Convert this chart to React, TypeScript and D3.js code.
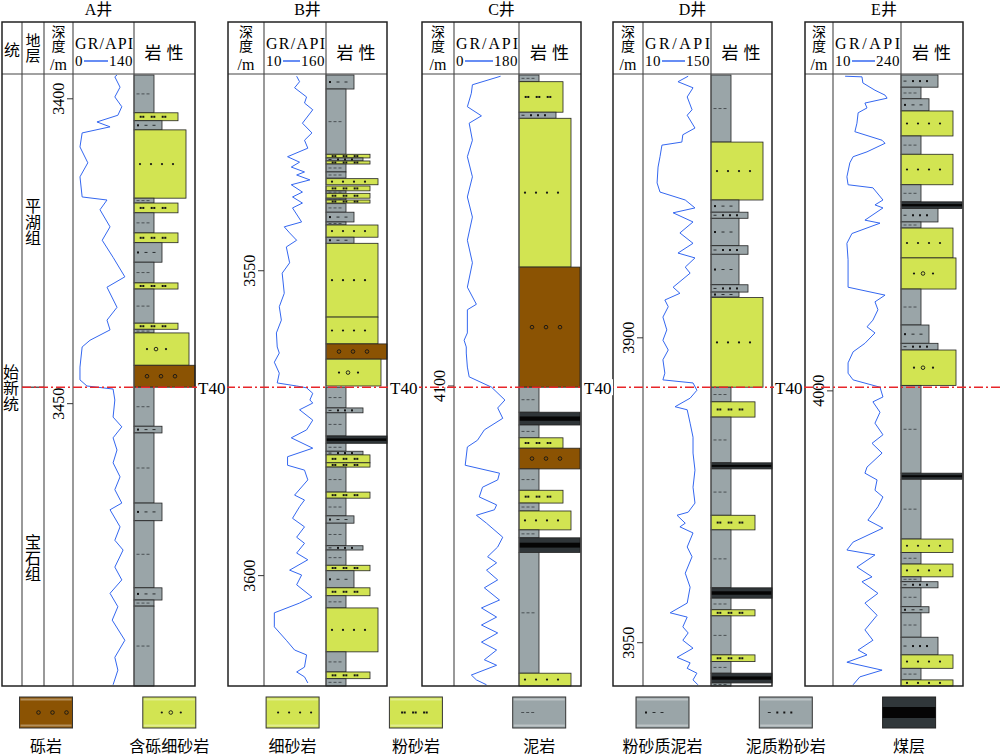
import React, { useEffect, useRef } from 'react';
import * as d3 from 'd3';

type Lith = 'gravel' | 'pebblySand' | 'fineSand' | 'silt' | 'muddySilt' | 'siltyMud' | 'mud' | 'coal';
type Layer = [number, number, Lith];
type Pt = [number, number];

// ---- data ----
const wellNames = ['A井', 'B井', 'C井', 'D井', 'E井'];
const grRanges: [number, number][] = [[0, 140], [10, 160], [0, 180], [10, 150], [10, 240]];
const depthTops = [3396.1, 3517.9, 4049.0, 3856.9, 3948.2];
const depthSpan = 100.2;
const depthTicks = [[3400, 3450], [3550, 3600], [4100], [3900, 3950], [4000]];
const t40Depths = [3447.3, 3569.0, 4100.2, 3908.1, 3999.1];

const aLith: Layer[] = [
  [3396.1, 3402.3, 'mud'], [3402.3, 3403.6, 'silt'], [3403.6, 3405.1, 'siltyMud'],
  [3405.1, 3416.3, 'fineSand'], [3416.3, 3417.1, 'mud'], [3417.1, 3418.7, 'silt'],
  [3418.7, 3422.0, 'mud'], [3422.0, 3423.6, 'silt'], [3423.6, 3426.8, 'siltyMud'],
  [3426.8, 3430.2, 'mud'], [3430.2, 3431.2, 'silt'], [3431.2, 3436.8, 'mud'],
  [3436.8, 3437.8, 'silt'], [3437.8, 3438.4, 'mud'], [3438.4, 3443.7, 'pebblySand'],
  [3443.7, 3447.3, 'gravel'], [3447.3, 3453.7, 'mud'], [3453.7, 3454.8, 'siltyMud'],
  [3454.8, 3466.3, 'mud'], [3466.3, 3469.2, 'siltyMud'], [3469.2, 3480.2, 'mud'],
  [3480.2, 3482.2, 'siltyMud'], [3482.2, 3483.2, 'mud'], [3483.2, 3496.3, 'mud'],
];
const bLith: Layer[] = [
  [3517.9, 3520.2, 'siltyMud'], [3520.2, 3530.9, 'mud'], [3530.9, 3531.5, 'silt'],
  [3531.5, 3532.0, 'muddySilt'], [3532.0, 3532.5, 'silt'], [3532.5, 3533.8, 'mud'],
  [3533.8, 3534.8, 'mud'], [3534.9, 3535.9, 'fineSand'], [3536.1, 3536.9, 'silt'],
  [3536.9, 3537.3, 'mud'], [3537.3, 3538.1, 'silt'], [3538.1, 3538.4, 'mud'],
  [3538.4, 3538.9, 'silt'], [3539.0, 3540.4, 'mud'], [3540.4, 3542.0, 'siltyMud'],
  [3542.0, 3542.5, 'mud'], [3542.5, 3544.5, 'fineSand'], [3544.5, 3545.5, 'siltyMud'],
  [3545.5, 3557.6, 'fineSand'], [3557.6, 3562.0, 'fineSand'], [3562.0, 3564.5, 'gravel'],
  [3564.5, 3568.9, 'pebblySand'], [3569.1, 3572.5, 'mud'], [3572.5, 3573.3, 'muddySilt'],
  [3573.3, 3577.1, 'mud'], [3577.1, 3578.3, 'coal'], [3578.3, 3579.6, 'mud'],
  [3579.6, 3580.2, 'muddySilt'], [3580.2, 3581.5, 'silt'], [3581.5, 3582.2, 'silt'],
  [3582.2, 3586.3, 'mud'], [3586.3, 3587.3, 'silt'], [3587.3, 3590.2, 'mud'],
  [3590.2, 3591.4, 'siltyMud'], [3591.4, 3595.1, 'mud'], [3595.1, 3595.8, 'muddySilt'],
  [3595.8, 3598.3, 'mud'], [3598.3, 3599.2, 'silt'], [3599.2, 3602.0, 'siltyMud'],
  [3602.0, 3603.3, 'silt'], [3603.3, 3605.3, 'mud'], [3605.3, 3612.5, 'fineSand'],
  [3612.5, 3615.8, 'mud'], [3615.8, 3616.9, 'silt'], [3616.9, 3618.1, 'mud'],
];
const cLith: Layer[] = [
  [4049.0, 4050.1, 'mud'], [4050.1, 4055.1, 'silt'], [4055.1, 4056.1, 'muddySilt'],
  [4056.1, 4080.5, 'fineSand'], [4080.5, 4100.2, 'gravel'], [4100.2, 4104.3, 'mud'],
  [4104.3, 4106.4, 'coal'], [4106.4, 4108.5, 'mud'], [4108.5, 4110.2, 'silt'],
  [4110.2, 4113.6, 'gravel'], [4113.6, 4117.1, 'mud'], [4117.1, 4119.2, 'silt'],
  [4119.2, 4120.5, 'mud'], [4120.5, 4123.6, 'fineSand'], [4123.6, 4124.9, 'mud'],
  [4124.9, 4127.3, 'coal'], [4127.3, 4147.1, 'mud'], [4147.1, 4149.2, 'fineSand'],
];
const dLith: Layer[] = [
  [3856.9, 3867.9, 'mud'], [3867.9, 3877.4, 'fineSand'], [3877.4, 3879.4, 'siltyMud'],
  [3879.4, 3880.4, 'muddySilt'], [3880.4, 3884.9, 'siltyMud'], [3884.9, 3886.3, 'muddySilt'],
  [3886.3, 3891.3, 'siltyMud'], [3891.3, 3892.5, 'muddySilt'], [3892.5, 3893.3, 'siltyMud'],
  [3893.4, 3908.1, 'fineSand'], [3908.1, 3910.5, 'mud'], [3910.5, 3913.0, 'silt'],
  [3913.0, 3920.5, 'mud'], [3920.5, 3921.5, 'coal'], [3921.5, 3929.1, 'mud'],
  [3929.1, 3931.5, 'silt'], [3931.5, 3941.0, 'mud'], [3941.0, 3942.7, 'coal'],
  [3942.7, 3944.6, 'mud'], [3944.6, 3945.6, 'silt'], [3945.6, 3952.0, 'mud'],
  [3952.0, 3953.1, 'silt'], [3953.1, 3955.0, 'mud'], [3955.0, 3956.6, 'coal'],
  [3956.6, 3957.1, 'mud'],
];
const eLith: Layer[] = [
  [3948.2, 3950.2, 'muddySilt'], [3950.2, 3952.1, 'mud'], [3952.1, 3954.1, 'siltyMud'],
  [3954.1, 3958.2, 'fineSand'], [3958.2, 3961.2, 'mud'], [3961.2, 3966.2, 'fineSand'],
  [3966.2, 3969.0, 'mud'], [3969.0, 3970.1, 'coal'], [3970.1, 3972.3, 'muddySilt'],
  [3972.3, 3973.3, 'mud'], [3973.3, 3978.2, 'fineSand'], [3978.2, 3983.3, 'pebblySand'],
  [3983.3, 3989.2, 'mud'], [3989.2, 3992.2, 'siltyMud'], [3992.2, 3993.3, 'muddySilt'],
  [3993.3, 3999.1, 'pebblySand'], [3999.1, 4013.5, 'mud'], [4013.5, 4014.5, 'coal'],
  [4014.5, 4024.3, 'mud'], [4024.3, 4026.5, 'fineSand'], [4026.5, 4028.4, 'mud'],
  [4028.4, 4030.5, 'fineSand'], [4030.5, 4031.3, 'mud'], [4031.3, 4032.3, 'muddySilt'],
  [4032.3, 4035.4, 'mud'], [4035.4, 4036.4, 'siltyMud'], [4036.4, 4040.4, 'mud'],
  [4040.4, 4043.3, 'muddySilt'], [4043.3, 4045.5, 'fineSand'], [4045.5, 4047.4, 'mud'],
  [4047.4, 4048.4, 'fineSand'],
];

const aGR: Pt[] = [
  [3396.1, 101], [3396.4, 96], [3398.1, 108], [3399.7, 96], [3401.3, 112], [3402.7, 103],
  [3403.8, 55], [3404.6, 85], [3405.6, 21], [3407.9, 16], [3410.5, 34], [3412.8, 16],
  [3416.1, 21], [3416.6, 78], [3418.2, 62], [3421.0, 85], [3423.2, 67], [3426.0, 92],
  [3429.2, 119], [3430.9, 78], [3434.2, 101], [3436.3, 78], [3437.9, 85], [3439.6, 39],
  [3440.7, 21], [3444.0, 16], [3446.1, 16], [3447.1, 32], [3447.6, 92], [3449.4, 96],
  [3452.2, 92], [3453.8, 112], [3455.6, 92], [3457.6, 101], [3459.7, 92], [3462.0, 108],
  [3464.1, 96], [3466.3, 112], [3467.4, 85], [3470.2, 108], [3472.4, 96], [3474.0, 115],
  [3476.8, 96], [3478.9, 112], [3481.1, 85], [3483.3, 103], [3485.5, 90], [3488.8, 119],
  [3491.6, 96], [3493.7, 103], [3496.1, 92],
];
const bGR: Pt[] = [
  [3518.1, 89], [3519.0, 96], [3520.0, 84], [3521.5, 113], [3522.5, 108], [3523.6, 128],
  [3525.8, 103], [3527.4, 126], [3528.6, 108], [3529.9, 116], [3531.3, 67], [3532.2, 96],
  [3533.0, 76], [3533.8, 108], [3534.3, 89], [3535.1, 121], [3535.9, 76], [3537.1, 103],
  [3537.9, 79], [3538.9, 103], [3539.7, 79], [3542.0, 101], [3542.8, 59], [3543.8, 72],
  [3545.0, 89], [3546.1, 64], [3548.7, 72], [3550.4, 54], [3553.7, 59], [3555.9, 47],
  [3558.1, 52], [3560.2, 40], [3562.5, 42], [3563.5, 47], [3565.0, 35], [3566.8, 47],
  [3568.4, 42], [3568.9, 89], [3569.2, 113], [3570.1, 128], [3571.2, 121], [3571.7, 128],
  [3572.8, 96], [3574.5, 128], [3576.1, 113], [3577.4, 76], [3579.1, 128], [3580.5, 67],
  [3581.9, 67], [3582.7, 108], [3584.3, 116], [3586.8, 84], [3587.6, 108], [3588.7, 96],
  [3590.6, 79], [3592.0, 108], [3593.7, 89], [3594.7, 108], [3596.3, 89], [3597.4, 116],
  [3599.1, 72], [3599.9, 101], [3601.5, 89], [3603.5, 126], [3604.5, 96], [3606.1, 35],
  [3608.4, 35], [3610.6, 64], [3612.2, 84], [3613.0, 113], [3615.0, 108], [3615.8, 89],
  [3616.6, 108], [3617.6, 116],
];
const cGR: Pt[] = [
  [4049.2, 129], [4050.6, 51], [4052.0, 48], [4054.2, 37], [4055.7, 76], [4056.9, 42],
  [4059.7, 51], [4062.4, 37], [4065.7, 51], [4069.0, 37], [4072.3, 51], [4076.1, 37],
  [4079.8, 51], [4083.8, 37], [4086.6, 62], [4087.5, 37], [4091.3, 37], [4092.5, 28],
  [4093.6, 34], [4094.6, 34], [4096.9, 37], [4098.5, 42], [4100.2, 104], [4102.3, 141],
  [4103.6, 121], [4105.3, 135], [4107.2, 84], [4108.9, 65], [4110.0, 37], [4113.0, 31],
  [4114.3, 126], [4115.4, 121], [4116.6, 79], [4118.2, 70], [4119.5, 118], [4120.3, 112],
  [4121.2, 62], [4122.5, 90], [4124.8, 135], [4126.4, 121], [4128.0, 93], [4129.0, 118],
  [4130.2, 90], [4131.8, 121], [4133.1, 84], [4135.1, 126], [4136.4, 76], [4137.9, 118],
  [4139.2, 76], [4140.5, 121], [4142.0, 76], [4143.3, 118], [4144.9, 84], [4145.8, 118],
  [4147.4, 48], [4148.2, 62], [4149.0, 90],
];
const dGR: Pt[] = [
  [3857.1, 103], [3858.0, 82], [3859.0, 113], [3860.5, 101], [3862.6, 111], [3863.5, 101],
  [3865.6, 117], [3866.7, 92], [3867.9, 90], [3868.4, 49], [3870.3, 45], [3872.0, 41],
  [3874.6, 39], [3876.1, 45], [3877.4, 97], [3878.7, 117], [3879.5, 72], [3881.0, 113],
  [3882.8, 86], [3884.5, 113], [3886.1, 82], [3886.9, 117], [3888.4, 97], [3889.4, 107],
  [3891.7, 72], [3892.7, 86], [3893.8, 55], [3894.9, 62], [3896.6, 51], [3898.7, 59],
  [3900.4, 51], [3902.0, 62], [3903.6, 51], [3905.8, 55], [3906.9, 51], [3907.4, 113],
  [3908.6, 121], [3909.9, 107], [3911.3, 76], [3911.8, 101], [3914.0, 107], [3916.3, 113],
  [3918.9, 113], [3921.7, 117], [3924.5, 113], [3927.1, 117], [3928.6, 103], [3929.1, 80],
  [3930.4, 97], [3931.0, 86], [3932.0, 113], [3934.3, 101], [3935.9, 111], [3938.6, 97],
  [3940.9, 107], [3943.5, 101], [3945.1, 66], [3945.8, 101], [3947.4, 92], [3948.4, 103],
  [3949.6, 92], [3950.9, 113], [3952.4, 80], [3953.3, 107], [3954.2, 101], [3955.0, 121],
  [3956.1, 113], [3956.9, 123],
];
const eGR: Pt[] = [
  [3948.4, 51], [3948.5, 108], [3949.5, 111], [3950.7, 152], [3951.5, 186], [3952.0, 193],
  [3952.8, 118], [3953.6, 125], [3954.4, 95], [3956.1, 91], [3957.5, 84], [3958.9, 176],
  [3959.4, 186], [3960.8, 125], [3961.6, 78], [3962.6, 67], [3964.9, 57], [3966.2, 61],
  [3966.7, 145], [3968.7, 179], [3969.5, 152], [3970.0, 179], [3972.0, 118], [3972.5, 169],
  [3974.2, 74], [3975.8, 57], [3978.5, 61], [3983.0, 61], [3984.3, 186], [3985.4, 152],
  [3986.7, 162], [3988.4, 145], [3989.5, 125], [3990.5, 152], [3992.2, 118], [3993.6, 78],
  [3995.4, 61], [3997.1, 61], [3998.2, 78], [3999.4, 169], [4001.0, 179], [4001.8, 145],
  [4003.5, 169], [4005.3, 152], [4007.2, 179], [4008.6, 142], [4010.2, 176], [4012.5, 125],
  [4013.5, 118], [4014.6, 159], [4016.3, 152], [4017.4, 179], [4019.0, 162], [4021.2, 128],
  [4022.5, 179], [4024.8, 78], [4026.1, 57], [4026.9, 152], [4028.9, 91], [4030.5, 142],
  [4031.3, 108], [4033.2, 162], [4034.8, 118], [4036.8, 159], [4039.2, 118], [4040.9, 145],
  [4042.5, 95], [4043.3, 125], [4044.5, 57], [4045.8, 176], [4046.9, 101], [4048.2, 78],
];

const lithLayers = [aLith, bLith, cLith, dLith, eLith];
const grCurves = [aGR, bGR, cGR, dGR, eGR];

const legendTypes: Lith[] = ['gravel', 'pebblySand', 'fineSand', 'silt', 'mud', 'siltyMud', 'muddySilt', 'coal'];
const legendLabels = ['砾岩', '含砾细砂岩', '细砂岩', '粉砂岩', '泥岩', '粉砂质泥岩', '泥质粉砂岩', '煤层'];

// ---- layout / style ----
const panels = [
  { left: 2, depthL: 44, depthR: 73, grR: 134, lithR: 195 },
  { left: 228, depthL: 228, depthR: 264, grR: 326, lithR: 387 },
  { left: 422, depthL: 422, depthR: 454, grR: 519, lithR: 581 },
  { left: 613, depthL: 613, depthR: 643, grR: 711, lithR: 772 },
  { left: 805, depthL: 805, depthR: 833, grR: 901, lithR: 963 },
];
const TOP = 22, HEAD_B = 74, BODY_T = 75, BOTTOM = 686;
const SERIF = "'Liberation Serif', 'Times New Roman', 'Noto Sans CJK SC', serif";
const CJK = "'Noto Sans CJK SC', sans-serif";
const YELLOW = '#d2e452';
const GREY = '#9aa5a8';
const lithStyle: Record<Lith, { fill: string; w: number }> = {
  gravel: { fill: '#8b5303', w: 61 },
  pebblySand: { fill: YELLOW, w: 55 },
  fineSand: { fill: YELLOW, w: 52 },
  silt: { fill: YELLOW, w: 44 },
  muddySilt: { fill: GREY, w: 37 },
  siltyMud: { fill: GREY, w: 28 },
  mud: { fill: GREY, w: 20 },
  coal: { fill: '#2f3538', w: 61 },
};

function drawSymbols(g: any, type: Lith, x0: number, yc: number) {
  const ink = '#151515';
  const dash = (x: number, c = '#4a5053') =>
    g.append('line').attr('x1', x0 + x - 1.5).attr('x2', x0 + x + 1.5).attr('y1', yc).attr('y2', yc)
      .attr('stroke', c).attr('stroke-width', 1);
  const sq = (x: number) =>
    g.append('rect').attr('x', x0 + x - 1).attr('y', yc - 1).attr('width', 2).attr('height', 2).attr('fill', ink);
  const dot = (x: number) =>
    g.append('circle').attr('cx', x0 + x).attr('cy', yc).attr('r', 1.1).attr('fill', ink);
  const ring = (x: number) =>
    g.append('circle').attr('cx', x0 + x).attr('cy', yc).attr('r', 1.8)
      .attr('fill', 'none').attr('stroke', ink).attr('stroke-width', 0.9);
  switch (type) {
    case 'mud': [4, 9, 14].forEach(x => dash(x)); break;
    case 'siltyMud': sq(4); [12, 20].forEach(x => dash(x, '#2a2e30')); break;
    case 'muddySilt': dash(4, '#2a2e30'); [12, 19, 26].forEach(sq); break;
    case 'silt': [8, 19, 30].forEach(x => { sq(x - 1.3); sq(x + 1.3); }); break;
    case 'fineSand': [6, 17, 28, 39].forEach(dot); break;
    case 'pebblySand': dot(13); ring(22); dot(32); break;
    case 'gravel': [13, 27, 41].forEach(ring); break;
    default: break;
  }
}

function drawLayer(g: any, type: Lith, x: number, y0: number, y1: number, w: number) {
  const h = Math.max(0.5, y1 - y0);
  g.append('rect').attr('x', x).attr('y', y0).attr('width', w).attr('height', h)
    .attr('fill', lithStyle[type].fill).attr('stroke', '#222').attr('stroke-width', 0.8);
  if (type === 'coal') {
    g.append('rect').attr('x', x).attr('y', y0 + h / 3).attr('width', w).attr('height', h / 3).attr('fill', '#050505');
  } else {
    drawSymbols(g, type, x, (y0 + y1) / 2);
  }
}

// CJK label written top-to-bottom as a single text, centred on (cx, cy)
function vText(g: any, txt: string, cx: number, cy: number, size: number) {
  return g.append('text').attr('x', cx).attr('y', cy).attr('text-anchor', 'middle')
    .style('writing-mode', 'vertical-rl').style('text-orientation', 'upright')
    .style('font-family', CJK).style('font-size', `${size}px`).text(txt);
}

export default function App() {
  const ref = useRef<SVGSVGElement>(null);

  useEffect(() => {
    if (!ref.current) return;
    const svg = d3.select(ref.current);
    svg.selectAll('*').remove();

    const first = d3.scaleLinear().domain([depthTops[0], depthTops[0] + depthSpan]).range([BODY_T, BOTTOM]);
    const t40Y = first(t40Depths[0]);

    panels.forEach((p, i) => {
      const g = svg.append('g');
      const y = d3.scaleLinear().domain([depthTops[i], depthTops[i] + depthSpan]).range([BODY_T, BOTTOM]);
      const x = d3.scaleLinear().domain(grRanges[i]).range([p.depthR, p.grR]);

      // well title
      g.append('text').attr('x', (p.left + p.lithR) / 2).attr('y', 15).attr('text-anchor', 'middle')
        .style('font-family', SERIF).style('font-size', '16px').text(wellNames[i]);

      // lithology column
      const lg = g.append('g');
      lithLayers[i].forEach(([d0, d1, t]) => drawLayer(lg, t, p.grR, y(d0), y(d1), lithStyle[t].w));

      // GR curve
      const line = d3.line<Pt>().x(d => x(d[1])).y(d => y(d[0]));
      g.append('path').datum(grCurves[i]).attr('d', line).attr('fill', 'none')
        .attr('stroke', '#3467f0').attr('stroke-width', 1);

      // grid lines
      const inner = p.left === p.depthL ? [p.depthR, p.grR] : [22, p.depthL, p.depthR, p.grR];
      inner.forEach(xx => g.append('line').attr('x1', xx).attr('x2', xx).attr('y1', TOP).attr('y2', BOTTOM)
        .attr('stroke', '#555').attr('stroke-width', 1.2));
      g.append('line').attr('x1', p.left).attr('x2', p.lithR).attr('y1', HEAD_B).attr('y2', HEAD_B)
        .attr('stroke', '#444').attr('stroke-width', 1.2);
      g.append('rect').attr('x', p.left).attr('y', TOP).attr('width', p.lithR - p.left).attr('height', BOTTOM - TOP)
        .attr('fill', 'none').attr('stroke', '#222').attr('stroke-width', 1.5);

      // depth header
      const dc = (p.depthL + p.depthR) / 2;
      vText(g, '深度', dc, 39, 14);
      g.append('text').attr('x', dc).attr('y', 70).attr('text-anchor', 'middle')
        .style('font-family', SERIF).style('font-size', '16px').text('/m');

      // GR header
      const fsNum = 15;
      const measure = (s: string) => {
        const t = g.append('text').style('font-family', SERIF).style('font-size', `${fsNum}px`)
          .style('letter-spacing', '0.5px').text(s);
        const w = (t.node() as SVGTextElement).getComputedTextLength();
        t.remove();
        return w;
      };
      const loW = measure(String(grRanges[i][0]));
      const hiW = measure(String(grRanges[i][1]));
      g.append('text').attr('x', p.depthR + 2).attr('y', 49).attr('textLength', p.grR - p.depthR - 3)
        .attr('lengthAdjust', 'spacing').style('font-family', SERIF).style('font-size', '16px').text('GR/API');
      const nums = g.append('text').style('font-family', SERIF).style('font-size', `${fsNum}px`)
        .style('letter-spacing', '0.5px');
      nums.append('tspan').attr('x', p.depthR + 2).attr('y', 66).text(String(grRanges[i][0]));
      nums.append('tspan').attr('x', p.grR - 1 - hiW).attr('y', 66).text(String(grRanges[i][1]));
      g.append('line').attr('x1', p.depthR + 3 + loW).attr('x2', p.grR - 2 - hiW).attr('y1', 61).attr('y2', 61)
        .attr('stroke', '#3467f0').attr('stroke-width', 1.5);

      // lithology header
      g.append('text').attr('x', (p.grR + p.lithR) / 2 + 2).attr('y', 53).attr('dy', '0.36em').attr('text-anchor', 'middle')
        .style('font-family', CJK).style('font-size', '17px').style('letter-spacing', '5px').text('岩性');

      // depth ticks
      depthTicks[i].forEach(t => {
        const yy = y(t);
        g.append('line').attr('x1', p.depthR - 6).attr('x2', p.depthR).attr('y1', yy).attr('y2', yy)
          .attr('stroke', '#333').attr('stroke-width', 1);
        g.append('text').attr('transform', `translate(${p.depthR - 9},${yy}) rotate(-90)`).attr('text-anchor', 'middle')
          .style('font-family', SERIF).style('font-size', '16px').text(String(t));
      });
    });

    // well A stratigraphy columns
    const s = svg.append('g');
    s.append('text').attr('x', 12).attr('y', 50).attr('dy', '0.36em').attr('text-anchor', 'middle')
      .style('font-family', CJK).style('font-size', '16px').text('统');
    vText(s, '地层', 33, 48, 15);
    vText(s, '平湖组', 33, 222, 16);
    vText(s, '宝石组', 33, 558, 16);
    vText(s, '始新统', 11, 388, 16);
    s.append('line').attr('x1', 22).attr('x2', 44).attr('y1', t40Y).attr('y2', t40Y).attr('stroke', '#333').attr('stroke-width', 1.2);

    // T40 marker
    svg.append('line').attr('x1', 22).attr('x2', 1000).attr('y1', t40Y).attr('y2', t40Y)
      .attr('stroke', '#e8262a').attr('stroke-width', 1.6).attr('stroke-dasharray', '9,3,2,3');
    panels.slice(0, 4).forEach(p => {
      svg.append('rect').attr('x', p.lithR + 2).attr('y', t40Y - 8).attr('width', 30).attr('height', 16).attr('fill', '#fff');
      svg.append('text').attr('x', p.lithR + 3).attr('y', t40Y + 7).style('font-family', SERIF).style('font-size', '17px').text('T40');
    });

    // legend
    const lgd = svg.append('g');
    legendTypes.forEach((t, k) => {
      const bx = 19.5 + k * 123.3;
      const by = 697, bw = 53, bh = 31;
      if (t === 'coal') {
        lgd.append('rect').attr('x', bx).attr('y', by).attr('width', bw).attr('height', bh).attr('fill', '#30373a').attr('stroke', '#222');
        lgd.append('rect').attr('x', bx).attr('y', by + 10).attr('width', bw).attr('height', 11).attr('fill', '#050505');
      } else {
        lgd.append('rect').attr('x', bx).attr('y', by).attr('width', bw).attr('height', bh)
          .attr('fill', lithStyle[t].fill).attr('stroke', '#333').attr('stroke-width', 1);
        lgd.append('line').attr('x1', bx + 1).attr('x2', bx + bw - 1).attr('y1', by + 2.5).attr('y2', by + 2.5)
          .attr('stroke', '#fff').attr('stroke-opacity', 0.35).attr('stroke-width', 2);
        lgd.append('line').attr('x1', bx + 1).attr('x2', bx + bw - 1).attr('y1', by + bh - 2.5).attr('y2', by + bh - 2.5)
          .attr('stroke', '#fff').attr('stroke-opacity', 0.35).attr('stroke-width', 2);
        drawSymbols(lgd, t, bx + 6, by + bh / 2);
      }
      lgd.append('text').attr('x', bx + bw / 2).attr('y', 746).attr('dy', '0.36em').attr('text-anchor', 'middle')
        .style('font-family', CJK).style('font-size', '16px').text(legendLabels[k]);
    });
  }, []);

  return (
    <svg ref={ref} width={1000} height={756}
      style={{ position: 'absolute', left: 0, top: 0, background: '#fff', display: 'block' }} />
  );
}
